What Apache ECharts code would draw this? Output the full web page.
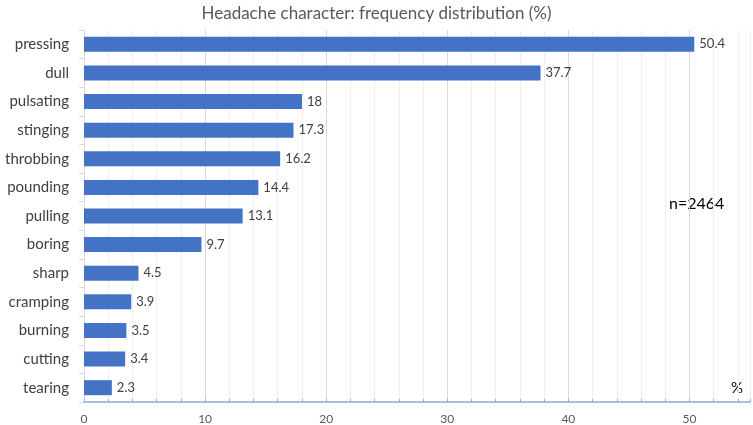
<!DOCTYPE html>
<html>
<head>
<meta charset="utf-8">
<script src="https://cdn.jsdelivr.net/npm/echarts@6/dist/echarts.min.js"></script>
<style>
  html, body { margin: 0; padding: 0; background: #fff; }
  #chart { width: 753px; height: 425px; }
</style>
</head>
<body>
<div id="chart"></div>
<script>
const categories = ["pressing", "dull", "pulsating", "stinging", "throbbing", "pounding",
  "pulling", "boring", "sharp", "cramping", "burning", "cutting", "tearing"];
const values = [50.4, 37.7, 18, 17.3, 16.2, 14.4, 13.1, 9.7, 4.5, 3.9, 3.5, 3.4, 2.3];
const sampleNote = "n=2464";

const myChart = echarts.init(document.getElementById("chart"));
const font = "Lato";

const options = {
  animation: false,
  title: {
    text: "Headache character: frequency distribution (%)",
    left: "center",
    top: 0,
    textStyle: { fontFamily: font, fontSize: 17, fontWeight: "normal", color: "#595959" },
  },
  grid: { left: 84, right: 1, top: 30, bottom: 23 },
  xAxis: {
    type: "value",
    min: 0,
    max: 55,
    interval: 2,
    axisLine: { show: true, lineStyle: { color: "#8eaadb", width: 1.5 } },
    axisTick: { show: true, inside: true, length: 3, lineStyle: { color: "#8eaadb" } },
    axisLabel: {
      fontFamily: font, fontSize: 12, color: "#595959", margin: 11,
      formatter: (v) => (v % 10 === 0 ? String(v) : ""),
    },
    splitLine: {
      show: true,
      lineStyle: { color: ["#d9d9d9", "#efefef", "#efefef", "#efefef", "#efefef"] },
    },
  },
  yAxis: {
    type: "category",
    data: categories,
    inverse: true,
    axisLine: { show: true, lineStyle: { color: "#d9d9d9" } },
    axisTick: { show: true, length: 5, lineStyle: { color: "#d9d9d9" } },
    axisLabel: { fontFamily: font, fontSize: 15, color: "#404040", margin: 15 },
  },
  series: [
    {
      type: "bar",
      data: values,
      barWidth: 15,
      itemStyle: { color: "#4472c4" },
      label: {
        show: true,
        position: "right",
        distance: 5,
        fontFamily: font,
        fontSize: 13,
        color: "#404040",
      },
    },
  ],
  graphic: [
    { type: "text", left: 669, top: 196, style: { text: sampleNote, fontFamily: font, fontSize: 16, fill: "#000" } },
    { type: "text", left: 731, top: 381, style: { text: "%", fontFamily: font, fontSize: 15, fill: "#000" } },
  ],
};

myChart.setOption(options);
</script>
</body>
</html>
